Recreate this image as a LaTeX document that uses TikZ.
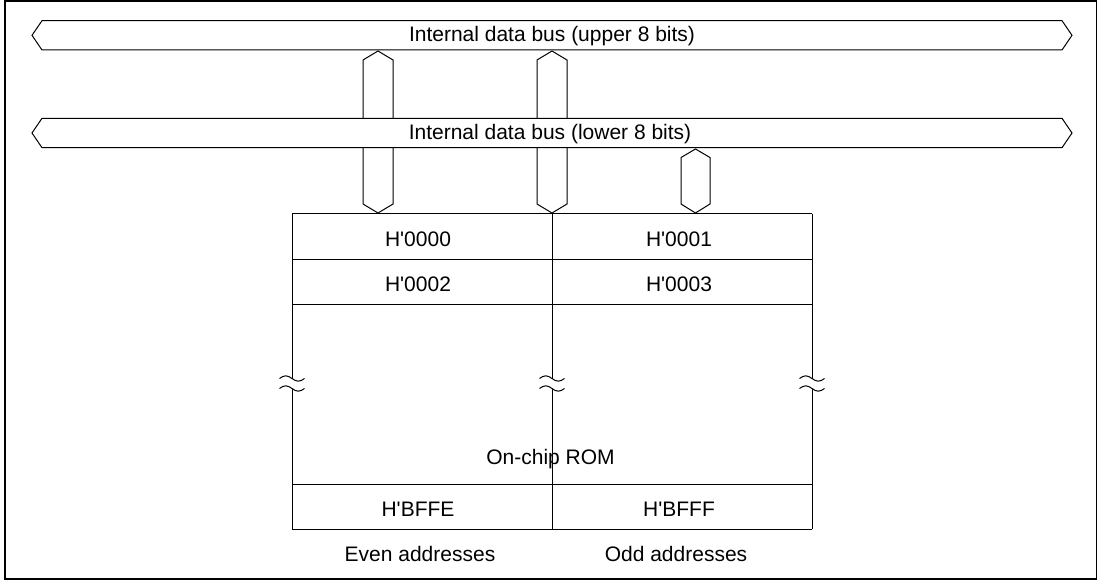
\documentclass[tikz,border=0pt]{standalone}
\usepackage{fontspec}
\setmainfont{Liberation Sans}
\begin{document}
\begin{tikzpicture}[x=1pt,y=-1pt,
  line width=1pt, line join=miter,
  lbl/.style={anchor=base, inner sep=0pt, font=\fontsize{21}{25}\selectfont},
  busline/.style={draw=black, fill=white, line width=1pt},
  brk/.pic={\draw[line width=1pt] (-12.5,0) sin (-6.25,-2.7) cos (0,0) sin (6.25,2.7) cos (12.5,0);}
]
\useasboundingbox (0,0) rectangle (1097,580);
% frame
\draw[line width=2pt] (5,1.5) rectangle (1096.5,578.5);

% upper bus
\path[busline] (42,20.7) -- (1062,20.7) -- (1072,35.3) -- (1062,50) -- (42,50) -- (32,35.3) -- cycle;
\node[lbl] (upper) at (552,42) {Internal data bus (upper 8 bits)};

% vertical buses
\path[busline] (378,51) -- (393,60) -- (393,204) -- (378,213) -- (363,204) -- (363,60) -- cycle;
\path[busline] (552,51) -- (567,60) -- (567,204) -- (552,213) -- (537,204) -- (537,60) -- cycle;
\path[busline] (695.5,149) -- (710,157.5) -- (710,204) -- (695.5,213) -- (681,204) -- (681,157.5) -- cycle;

% lower bus (drawn over the vertical buses)
\path[busline] (42,118.3) -- (1062,118.3) -- (1072,133) -- (1062,147.7) -- (42,147.7) -- (32,133) -- cycle;
\node[lbl] (lower) at (550,140) {Internal data bus (lower 8 bits)};

% memory block
\draw (292,213.5) -- (812,213.5);
\draw (292,259) -- (812,259);
\draw (292,304) -- (812,304);
\draw (292,484) -- (812,484);
\draw (292,529) -- (812,529);
\foreach \xx in {292,552,812}{
  \draw (\xx,213.5) -- (\xx,378.5);
  \draw (\xx,388.5) -- (\xx,529);
  \pic at (\xx,378.5) {brk};
  \pic at (\xx,388.5) {brk};
}

\node[lbl] (a0) at (418,246) {H\textquotesingle 0000};
\node[lbl] (a1) at (679,246) {H\textquotesingle 0001};
\node[lbl] (a2) at (418,291.3) {H\textquotesingle 0002};
\node[lbl] (a3) at (679,291.3) {H\textquotesingle 0003};
\node[lbl] (rom) at (550.5,464.3) {On-chip ROM};
\node[lbl] (aE) at (418,516) {H\textquotesingle BFFE};
\node[lbl] (aF) at (679,516) {H\textquotesingle BFFF};
\node[lbl] (even) at (420,561.7) {Even addresses};
\node[lbl] (odd) at (676,561.7) {Odd addresses};
\end{tikzpicture}
\end{document}
